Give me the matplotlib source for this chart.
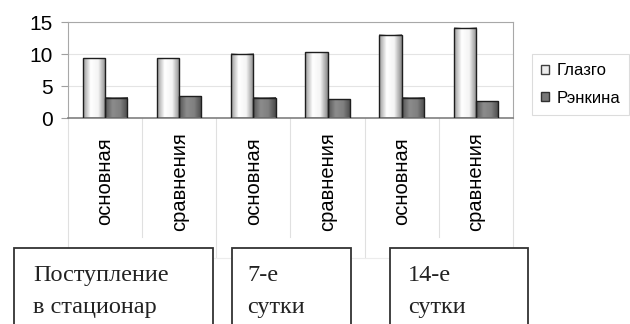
import numpy as np
import matplotlib.pyplot as plt
from matplotlib.patches import Patch, Rectangle
from matplotlib.colors import LinearSegmentedColormap

groups = ['Поступление\nв стационар', '7-е\nсутки', '14-е\nсутки']
subgroups = ['основная', 'сравнения']
categories = [s for g in groups for s in subgroups]
glasgow = [9.3, 9.3, 10.0, 10.3, 13.0, 14.1]
rankin = [3.2, 3.4, 3.2, 2.9, 3.2, 2.6]
yticks = [0, 5, 10, 15]

plt.rcParams['font.family'] = 'Liberation Sans'

fig = plt.figure(figsize=(6.3, 3.24), dpi=100)
ax = fig.add_axes([68 / 630, 1 - 118 / 324, 445 / 630, 96 / 324])

x = np.arange(len(categories))
w = 0.3
cm_light = LinearSegmentedColormap.from_list('l', ['#9a9a9a', '#ffffff', '#f4f4f4', '#8a8a8a'])
cm_dark = LinearSegmentedColormap.from_list('d', ['#555555', '#8c8c8c', '#808080', '#4a4a4a'])
grad = np.linspace(0, 1, 64).reshape(1, -1)

b1 = ax.bar(x - w / 2, glasgow, w, facecolor='none', edgecolor='#1e1e1e', lw=1.0, zorder=3)
b2 = ax.bar(x + w / 2, rankin, w, facecolor='none', edgecolor='#1e1e1e', lw=1.0, zorder=3)
for bars, cmap in ((b1, cm_light), (b2, cm_dark)):
    for r in bars:
        ax.imshow(grad, cmap=cmap, aspect='auto', zorder=2,
                  extent=(r.get_x(), r.get_x() + r.get_width(), 0, r.get_height()))

ax.set_xlim(-0.5, len(categories) - 0.5)
ax.set_ylim(0, 15)
ax.set_yticks(yticks)
ax.tick_params(axis='y', labelsize=15, length=5, color='#a0a0a0', pad=6)
ax.yaxis.grid(True, color='#e4e4e4', lw=0.8)
ax.set_axisbelow(True)
for s in ['top', 'right', 'left']:
    ax.spines[s].set_color('#a8a8a8')
ax.spines['bottom'].set_color('#808080')
ax.spines['bottom'].set_linewidth(1.2)

ax.set_xticks(x)
ax.set_xticklabels([])
ax.tick_params(axis='x', length=0)
for xi, lab in zip(x, categories):
    ax.text(xi, -0.66, lab, rotation=90, ha='center', va='center', fontsize=14.5,
            transform=ax.get_xaxis_transform())

# multi-level category separators
trans = ax.get_xaxis_transform()
bounds = np.arange(len(categories) + 1) - 0.5
for i, b in enumerate(bounds):
    if i == 0:
        y1 = -1.34
    elif i == len(bounds) - 1:
        y1 = -1.43
    elif i % 2 == 0:
        y1 = -1.46
    else:
        y1 = -1.24
    ax.plot([b, b], [0, y1], color='#e0e0e0', lw=0.8, transform=trans, clip_on=False)
ax.plot([bounds[0], bounds[-1]], [-1.46, -1.46], color='#ececec', lw=0.8,
        transform=trans, clip_on=False)

handles = [Patch(facecolor='#ededed', edgecolor='#404040', label='Глазго'),
           Patch(facecolor='#777777', edgecolor='#303030', label='Рэнкина')]
leg = fig.legend(handles=handles, loc='upper left', bbox_to_anchor=(532 / 630, 1 - 54 / 324),
                 fontsize=12, frameon=True, fancybox=False, handlelength=0.45,
                 handleheight=0.45, handletextpad=0.45, borderpad=0.55, borderaxespad=0,
                 labelspacing=0.75)
leg.get_frame().set_edgecolor('#d4d4d4')
leg.get_frame().set_linewidth(0.8)

# group label boxes
box_left = [14, 232, 390]
box_right = [213, 351, 528]
text_left = [33, 247, 408]
for g, l, r, tl in zip(groups, box_left, box_right, text_left):
    fig.patches.append(Rectangle((l / 630, -0.05), (r - l) / 630, 0.05 + 1 - 248 / 324,
                                 transform=fig.transFigure, facecolor='white',
                                 edgecolor='#333333', lw=1.3, zorder=5))
    for k, line in enumerate(g.split('\n')):
        fig.text(tl / 630, 1 - (281 + 32 * k) / 324, line, family='Liberation Serif',
                 fontsize=17.5, va='baseline', ha='left', color='#222222', zorder=6)

fig.savefig('out.png', dpi=100)
